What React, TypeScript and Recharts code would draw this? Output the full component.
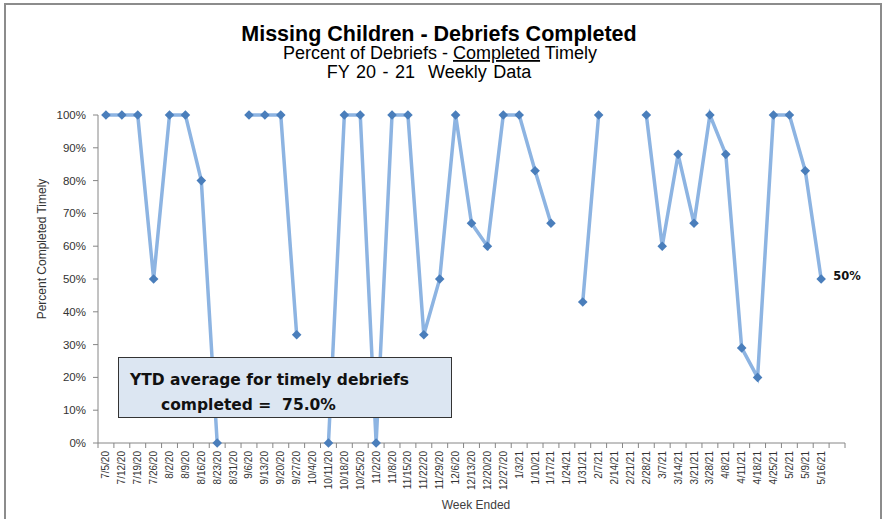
import { LineChart, Line, XAxis, YAxis } from "recharts";

const WEEKS = [
  "7/5/20", "7/12/20", "7/19/20", "7/26/20", "8/2/20", "8/9/20", "8/16/20", "8/23/20",
  "8/31/20", "9/6/20", "9/13/20", "9/20/20", "9/27/20", "10/4/20", "10/11/20", "10/18/20",
  "10/25/20", "11/2/20", "11/8/20", "11/15/20", "11/22/20", "11/29/20", "12/6/20", "12/13/20",
  "12/20/20", "12/27/20", "1/3/21", "1/10/21", "1/17/21", "1/24/21", "1/31/21", "2/7/21",
  "2/14/21", "2/21/21", "2/28/21", "3/7/21", "3/14/21", "3/21/21", "3/28/21", "4/8/21",
  "4/11/21", "4/18/21", "4/25/21", "5/2/21", "5/9/21", "5/16/21", "",
];

// percent of debriefs completed timely, null = no data that week
const PCT_TIMELY: (number | null)[] = [
  100, 100, 100, 50, 100, 100, 80, 0,
  null, 100, 100, 100, 33, null, 0, 100,
  100, 0, 100, 100, 33, 50, 100, 67,
  60, 100, 100, 83, 67, null, 43, 100,
  null, null, 100, 60, 88, 67, 100, 88,
  29, 20, 100, 100, 83, 50, null,
];

const Y_TICKS = [0, 10, 20, 30, 40, 50, 60, 70, 80, 90, 100];

const YTD_AVG = "75.0%";

const data = WEEKS.map((week, i) => ({ week, pct: PCT_TIMELY[i] }));
let lastIdx = -1;
PCT_TIMELY.forEach((v, i) => {
  if (v !== null) lastIdx = i;
});

const W = 885;
const H = 519;
const PLOT_LEFT = 98;
const PLOT_RIGHT = 40;
const HALF = (W - PLOT_LEFT - PLOT_RIGHT) / WEEKS.length / 2;
const AXIS = "#868686";

function WeekTick(props: any) {
  const { x, y, payload, index } = props;
  const axisY = y - 8;
  return (
    <g>
      <line x1={x - HALF} x2={x - HALF} y1={axisY} y2={axisY + 5} stroke={AXIS} />
      {index === WEEKS.length - 1 && (
        <line x1={x + HALF} x2={x + HALF} y1={axisY} y2={axisY + 5} stroke={AXIS} />
      )}
      <text
        x={x}
        y={y}
        transform={`rotate(-90 ${x} ${y})`}
        textAnchor="end"
        dominantBaseline="central"
        fontSize={10}
        fontFamily="Liberation Sans"
        fill="#333"
      >
        {payload.value}
      </text>
    </g>
  );
}

function Diamond(props: any) {
  const { cx, cy, index, value } = props;
  if (value === null || value === undefined || cx == null || cy == null) return <g key={index} />;
  const r = 4.8;
  return (
    <path
      key={index}
      d={`M${cx},${cy - r}L${cx + r},${cy}L${cx},${cy + r}L${cx - r},${cy}Z`}
      fill="#4a7ebb"
    />
  );
}

function LastLabel(props: any) {
  const { x, y, index, value } = props;
  if (index !== lastIdx || value == null) return null;
  return (
    <text x={x + 12} y={y + 1} fontSize={11.5} fontWeight="bold" fontFamily="DejaVu Sans" fill="#111">
      {`${value}%`}
    </text>
  );
}

export default function App() {
  return (
    <div style={{ position: "absolute", left: 0, top: 0, width: W, height: H, background: "#fff", overflow: "hidden" }}>
      <LineChart width={W} height={H} data={data} margin={{ top: 115, right: PLOT_RIGHT, bottom: 0, left: 0 }}>
        <XAxis
          dataKey="week"
          interval={0}
          height={76}
          padding={{ left: HALF, right: HALF }}
          tickSize={5}
          tickMargin={3}
          tickLine={false}
          axisLine={{ stroke: AXIS }}
          tick={<WeekTick />}
        />
        <YAxis
          width={PLOT_LEFT}
          domain={[0, 100]}
          ticks={Y_TICKS}
          interval={0}
          tickFormatter={(v: number) => `${v}%`}
          tickSize={5}
          tickMargin={7}
          axisLine={{ stroke: AXIS }}
          tickLine={{ stroke: AXIS }}
          tick={{ fontSize: 11.5, fill: "#333", fontFamily: "Liberation Sans" }}
        />
        <Line
          type="linear"
          dataKey="pct"
          stroke="#8db4e2"
          strokeWidth={3.5}
          dot={Diamond}
          activeDot={false}
          label={LastLabel}
          isAnimationActive={false}
        />
      </LineChart>

      <svg width={W} height={H} style={{ position: "absolute", left: 0, top: 0, pointerEvents: "none" }}>
        <text
          x={42}
          y={249}
          transform="rotate(-90 42 249)"
          textAnchor="middle"
          dominantBaseline="central"
          fontSize={12}
          fontFamily="Liberation Sans"
          fill="#333"
        >
          Percent Completed Timely
        </text>
        <text x={476} y={509} textAnchor="middle" fontSize={12} fontFamily="Liberation Sans" fill="#404040">
          Week Ended
        </text>
        {/* chart titles */}
        <text x={439} y={41} textAnchor="middle" fontSize={21.5} fontWeight="bold" fontFamily="Liberation Sans" fill="#000">
          Missing Children - Debriefs Completed
        </text>
        <text x={440} y={59} textAnchor="middle" fontSize={18} fontFamily="Liberation Sans" fill="#000">
          Percent of Debriefs - <tspan textDecoration="underline">Completed</tspan> Timely
        </text>
        <text
          x={429}
          y={77.5}
          textAnchor="middle"
          fontSize={18}
          fontFamily="Liberation Sans"
          fill="#000"
          style={{ whiteSpace: "pre", wordSpacing: 1.5 }}
        >
          {"FY 20 - 21  Weekly Data"}
        </text>
      </svg>

      <div
        style={{
          position: "absolute",
          left: 4,
          top: 3,
          width: 878,
          height: 540,
          boxSizing: "border-box",
          border: "2px solid #8c8c8c",
          pointerEvents: "none",
        }}
      />

      <div
        style={{
          position: "absolute",
          left: 118,
          top: 357,
          width: 334,
          height: 61,
          boxSizing: "border-box",
          background: "#dce6f2",
          border: "1.5px solid #333",
          fontFamily: "DejaVu Sans",
          fontWeight: "bold",
          fontSize: 15.5,
          lineHeight: "18px",
          color: "#111",
          whiteSpace: "pre",
        }}
      >
        <div style={{ position: "absolute", left: 11, top: 13 }}>YTD average for timely debriefs</div>
        <div style={{ position: "absolute", left: 42, top: 38 }}>{`completed =  ${YTD_AVG}`}</div>
      </div>
    </div>
  );
}
